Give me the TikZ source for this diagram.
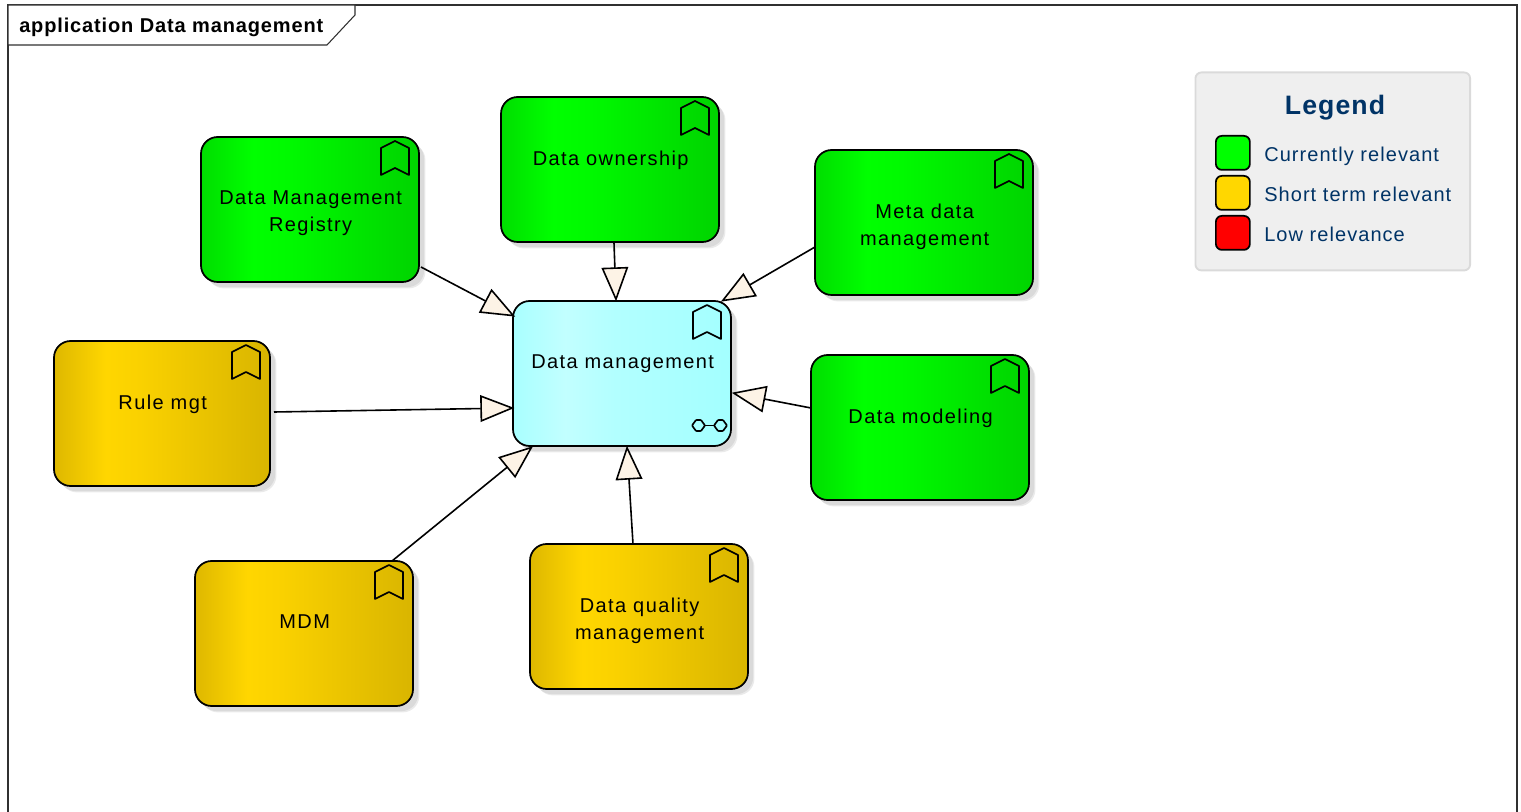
\documentclass[tikz,border=0pt]{standalone}
\usepackage{fontspec}
\setmainfont[LetterSpace=7]{Liberation Sans}
\newfontfamily\legfont[LetterSpace=5.3]{Liberation Sans}
\newfontfamily\titlefont[LetterSpace=4.3]{Liberation Sans}
\newfontfamily\headfont[LetterSpace=4]{Liberation Sans}
\usetikzlibrary{arrows.meta,calc,shadows}
\definecolor{legendblue}{HTML}{003366}
\definecolor{tipfill}{HTML}{FDF3E6}
\definecolor{legendbg}{HTML}{EFEFEF}
\definecolor{legendline}{HTML}{DADADA}
\definecolor{shadowgray}{HTML}{DADADA}
\definecolor{shadowlight}{HTML}{EAEAEA}
\definecolor{framegray}{HTML}{303030}
\pgfdeclarehorizontalshading{greenshade}{100bp}{rgb(0bp)=(0,.87,0); rgb(25bp)=(0,.87,0); rgb(37bp)=(0,1,0); rgb(45bp)=(0,.98,0); rgb(75bp)=(0,.83,0); rgb(100bp)=(0,.83,0)}
\pgfdeclarehorizontalshading{goldshade}{100bp}{rgb(0bp)=(.87,.72,0); rgb(25bp)=(.87,.72,0); rgb(37bp)=(1,.84,0); rgb(45bp)=(.98,.82,0); rgb(75bp)=(.85,.71,0); rgb(100bp)=(.85,.71,0)}
\pgfdeclarehorizontalshading{cyanshade}{100bp}{rgb(0bp)=(.66,1,1); rgb(25bp)=(.66,1,1); rgb(37bp)=(.76,1,1); rgb(48bp)=(.70,1,1); rgb(75bp)=(.64,1,1); rgb(100bp)=(.64,1,1)}
\newcommand{\boxtxt}[1]{\parbox[c][108.75pt][t]{162pt}{\centering\leftskip=1pt plus 1fil\relax\vspace*{40.4pt}#1\par}}
\tikzset{
  x=0.75pt,y=-0.75pt,
  every node/.style={font=\fontsize{15pt}{20.25pt}\selectfont},
  element/.style={draw=black,line width=1.3pt,rounded corners=12.5pt,inner sep=0pt,outer sep=0pt,anchor=north west,
    minimum width=163.5pt,minimum height=108.75pt,
    general shadow={fill=shadowlight,shadow xshift=4.8pt,shadow yshift=-4.8pt},
    general shadow={fill=shadowgray,shadow xshift=3.8pt,shadow yshift=-3.8pt}},
  greenbox/.style={element,shade,shading=greenshade},
  goldbox/.style={element,shade,shading=goldshade},
  cyanbox/.style={element,shade,shading=cyanshade},
  realize/.style={draw=black,line width=1.2pt,shorten >=-1pt,-{Triangle[length=25.5pt,width=20pt,fill=tipfill,line width=1.2pt]}},
  icon/.style={draw=black,line width=1.25pt,line join=round},
  swatch/.style={draw=black,line width=1.3pt,rounded corners=4.5pt,inner sep=0pt,anchor=north west,minimum width=25.5pt,minimum height=25.5pt},
  legendtext/.style={text=legendblue,anchor=base west,font=\legfont\fontsize{15pt}{18pt}\selectfont},
  framing/.style={draw=framegray,line width=.8pt},
  titletext/.style={inner sep=0pt,anchor=base west,font=\titlefont\fontsize{15pt}{18pt}\bfseries\selectfont},
}
\newcommand{\bookmark}[1]{\draw[icon] ($(#1.north east)+(-38,11)$) -- ($(#1.north east)+(-24,4)$) -- ($(#1.north east)+(-10,11)$) -- ($(#1.north east)+(-10,38)$) -- ($(#1.north east)+(-24,31)$) -- ($(#1.north east)+(-38,38)$) -- cycle;}
\begin{document}
\begin{tikzpicture}
\useasboundingbox (0,0) rectangle (1521,812);
\path[clip] (0,0) rectangle (1521,812);
\draw[framing] (8,820) -- (8,5) -- (1517,5) -- (1517,820);
\draw[framing,fill=white] (8,5) -- (355,5) -- (355,15) -- (327,45) -- (8,45) -- cycle;
\node[titletext] (title) at (19,33) {application Data management};
% elements
\node[greenbox] (dmr) at (201,137) {\boxtxt{Data Management\\Registry}};
\node[greenbox] (own) at (501,97) {\boxtxt{Data ownership}};
\node[greenbox] (meta) at (815,150) {\boxtxt{Meta data\\management}};
\node[cyanbox] (dm) at (513,301) {\boxtxt{Data management}};
\node[goldbox,minimum width=162pt] (rule) at (54,341) {\boxtxt{Rule mgt}};
\node[greenbox] (model) at (811,355) {\boxtxt{Data modeling}};
\node[goldbox] (mdm) at (195,561) {\boxtxt{MDM}};
\node[goldbox] (dq) at (530,544) {\boxtxt{Data quality\\management}};
\bookmark{dmr}\bookmark{own}\bookmark{meta}\bookmark{dm}\bookmark{rule}\bookmark{model}\bookmark{mdm}\bookmark{dq}
% glasses icon
\draw[icon,rounded corners=.6pt] ($(dm.south east)+(-39,-20.5)$) -- ($(dm.south east)+(-35,-26)$) -- ($(dm.south east)+(-30,-26)$) -- ($(dm.south east)+(-26,-20.5)$) -- ($(dm.south east)+(-30,-15)$) -- ($(dm.south east)+(-35,-15)$) -- cycle;
\draw[icon,rounded corners=.6pt] ($(dm.south east)+(-17,-20.5)$) -- ($(dm.south east)+(-13,-26)$) -- ($(dm.south east)+(-8,-26)$) -- ($(dm.south east)+(-4,-20.5)$) -- ($(dm.south east)+(-8,-15)$) -- ($(dm.south east)+(-13,-15)$) -- cycle;
\draw[icon] ($(dm.south east)+(-26,-20.5)$) -- ($(dm.south east)+(-17,-20.5)$);
% connectors
\draw[realize] ($(dmr.north west)+(220,130)$) -- ($(dm.north west)+(1,15)$);
\draw[realize] ($(own.north west)+(113,146)$) -- ($(dm.north west)+(103,-1)$);
\draw[realize] (meta.west |- 0,247) -- ($(dm.north west)+(209,0)$);
\draw[realize] ($(rule.north west)+(220,71)$) -- ($(dm.north west)+(0,107)$);
\draw[realize] (model.west |- 0,408) -- ($(dm.north west)+(220,92)$);
\draw[realize] ($(mdm.north west)+(197,0)$) -- ($(dm.south west)+(19,1)$);
\draw[realize] ($(dq.north west)+(103,0)$) -- ($(dm.south west)+(114,1)$);
% legend
\node[draw=legendline,fill=legendbg,line width=1.4pt,rounded corners=4.5pt,inner sep=0pt,anchor=north west,minimum width=206pt,minimum height=148.5pt] (legend) at (1194.5,71.5) {};
\node[anchor=base,text=legendblue,inner sep=0pt,font=\headfont\fontsize{20pt}{24pt}\bfseries\selectfont] (lt) at (1335,115) {Legend};
\node[swatch,fill={rgb,255:red,0;green,255;blue,0}] (s1) at (1215,135) {};
\node[swatch,fill={rgb,255:red,255;green,215;blue,0}] (s2) at (1215,175) {};
\node[swatch,fill={rgb,255:red,255;green,0;blue,0}] (s3) at (1215,215) {};
\node[legendtext,inner sep=0pt] (l1) at (1264,162) {Currently relevant};
\node[legendtext,inner sep=0pt] (l2) at (1264,202) {Short term relevant};
\node[legendtext,inner sep=0pt] (l3) at (1264,242) {Low relevance};
\end{tikzpicture}
\end{document}
